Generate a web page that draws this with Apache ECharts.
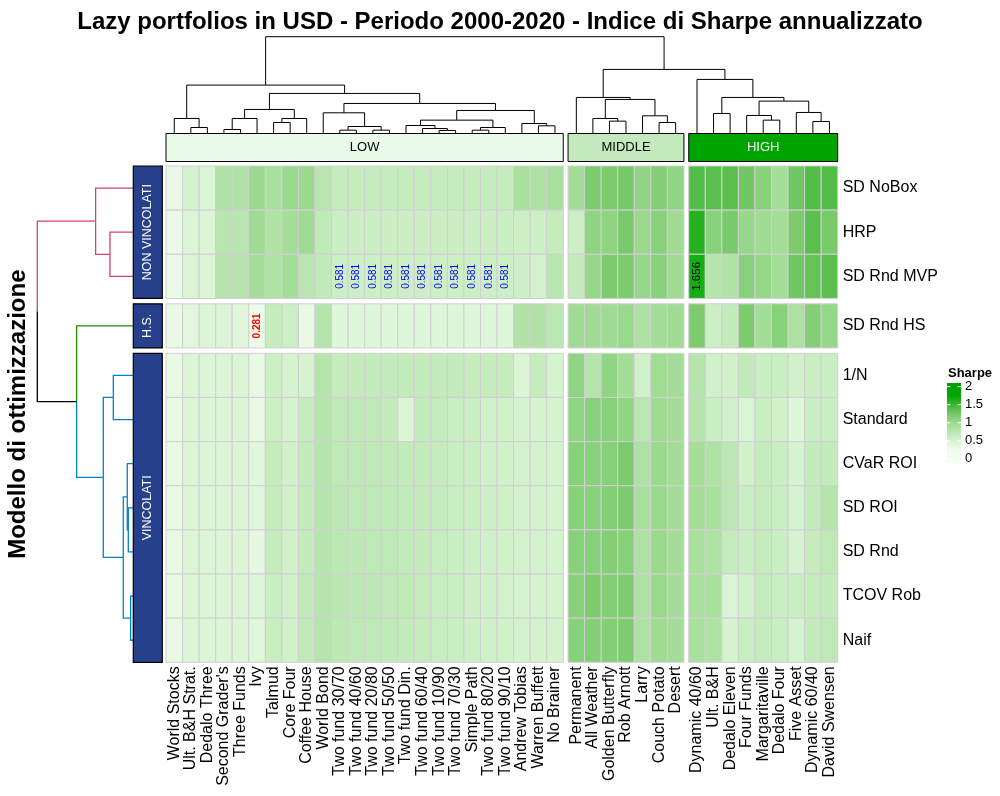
<!DOCTYPE html>
<html><head><meta charset="utf-8">
<script src="https://cdn.jsdelivr.net/npm/echarts@6/dist/echarts.min.js"></script>
<style>html,body{margin:0;padding:0;background:#fff}#chart{width:1000px;height:796px}</style>
</head><body><div id="chart"></div>
<script>
// ---------------- DATA ----------------
const colNames = ["World Stocks","Ult. B&H Strat.","Dedalo Three","Second Grader's","Three Funds","Ivy","Talmud","Core Four","Coffee House","World Bond","Two fund 30/70","Two fund 40/60","Two fund 20/80","Two fund 50/50","Two fund Din.","Two fund 60/40","Two fund 10/90","Two fund 70/30","Simple Path","Two fund 80/20","Two fund 90/10","Andrew Tobias","Warren Buffett","No Brainer","Permanent","All Weather","Golden Butterfly","Rob Arnott","Larry","Couch Potato","Desert","Dynamic 40/60","Ult. B&H","Dedalo Eleven","Four Funds","Margaritaville","Dedalo Four","Five Asset","Dynamic 60/40","David Swensen"];
const colBlockNames = ["LOW","MIDDLE","HIGH"];
const colBlockSizes = [24,7,9];

const rowNames = ["SD NoBox","HRP","SD Rnd MVP","SD Rnd HS","1/N","Standard","CVaR ROI","SD ROI","SD Rnd","TCOV Rob","Naif"];
const rowBlockNames = ["NON VINCOLATI","H.S.","VINCOLATI"];
const rowBlockSizes = [3,1,7];
const rowClusters = [0,0,0,1,2,2,2,2,2,2,2];

// Sharpe values, one array per row (columns in colNames order)
const sdNoBox  = [0.32,0.52,0.46,0.83,0.83,1.00,0.88,1.00,1.00,0.75, 0.64,0.64,0.64,0.64,0.64,0.64,0.64,0.64,0.64,0.64,0.64, 0.88,0.85,0.90, 0.93,1.20,1.20,1.24,1.07,1.15,1.07, 1.40,1.37,1.37,1.27,1.12,0.92,1.27,1.40,1.40];
const hrp      = [0.30,0.45,0.45,0.76,0.76,0.97,0.82,0.92,0.97,0.68, 0.59,0.59,0.59,0.59,0.59,0.59,0.59,0.59,0.59,0.59,0.59, 0.58,0.58,0.64, 0.58,1.08,1.08,1.22,1.00,1.12,0.97, 1.60,1.12,1.22,1.03,0.97,0.92,1.20,1.37,1.22];
const sdRndMvp = [0.30,0.46,0.46,0.78,0.78,0.92,0.84,0.92,0.75,0.68, 0.581,0.581,0.581,0.581,0.581,0.581,0.581,0.581,0.581,0.581,0.581, 0.57,0.53,0.76, 0.66,1.03,1.20,1.20,1.03,1.12,0.97, 1.656,0.78,0.82,1.12,1.03,0.92,1.27,1.32,1.37];
const sdRndHs  = [0.32,0.38,0.45,0.45,0.40,0.281,0.64,0.58,0.32,0.78, 0.42,0.42,0.42,0.42,0.42,0.42,0.42,0.42,0.42,0.42,0.42, 0.82,0.82,0.73, 0.97,0.97,0.97,1.02,0.85,0.93,0.97, 1.20,0.58,0.66,1.20,0.93,1.12,0.85,1.15,1.03];
const oneOverN = [0.33,0.45,0.45,0.45,0.45,0.33,0.58,0.50,0.50,0.78, 0.64,0.66,0.66,0.66,0.66,0.66,0.66,0.66,0.64,0.64,0.64, 0.45,0.64,0.50, 1.07,0.78,1.07,0.93,0.54,0.95,0.93, 0.78,0.54,0.54,0.68,0.60,0.60,0.54,0.60,0.60];
const standard = [0.33,0.45,0.45,0.45,0.45,0.33,0.58,0.50,0.64,0.78, 0.69,0.69,0.69,0.66,0.45,0.66,0.64,0.60,0.60,0.54,0.54, 0.50,0.50,0.50, 1.07,1.12,1.12,1.07,0.73,0.97,0.93, 0.78,0.60,0.54,0.47,0.60,0.54,0.42,0.60,0.60];
const cvarRoi  = [0.33,0.45,0.45,0.45,0.45,0.40,0.64,0.54,0.66,0.78, 0.70,0.70,0.70,0.68,0.66,0.66,0.64,0.62,0.60,0.56,0.54, 0.52,0.52,0.50, 1.12,1.12,1.14,1.20,0.84,1.00,0.93, 0.92,0.84,0.73,0.54,0.64,0.60,0.50,0.66,0.66];
const sdRoi    = [0.33,0.45,0.45,0.45,0.45,0.40,0.64,0.54,0.66,0.78, 0.71,0.70,0.70,0.68,0.66,0.65,0.64,0.62,0.60,0.57,0.55, 0.52,0.52,0.50, 1.12,1.12,1.15,1.20,0.88,1.00,0.93, 0.92,0.88,0.73,0.60,0.64,0.60,0.50,0.66,0.78];
const sdRnd    = [0.33,0.45,0.45,0.45,0.45,0.36,0.64,0.54,0.66,0.78, 0.72,0.71,0.70,0.69,0.67,0.65,0.63,0.60,0.58,0.56,0.54, 0.52,0.52,0.50, 1.12,1.14,1.15,1.14,0.84,1.00,0.93, 0.88,0.84,0.64,0.60,0.64,0.60,0.50,0.64,0.70];
const tcovRob  = [0.33,0.45,0.45,0.45,0.45,0.42,0.60,0.54,0.68,0.78, 0.74,0.72,0.71,0.70,0.68,0.64,0.62,0.60,0.57,0.55,0.53, 0.50,0.50,0.50, 1.12,1.20,1.15,1.18,0.84,1.02,0.93, 0.88,0.88,0.47,0.54,0.64,0.60,0.60,0.64,0.66];
const naif     = [0.32,0.45,0.45,0.45,0.45,0.40,0.62,0.54,0.68,0.78, 0.72,0.70,0.69,0.68,0.66,0.64,0.62,0.60,0.58,0.56,0.54, 0.52,0.52,0.52, 1.12,1.15,1.15,1.18,0.84,0.97,0.93, 0.88,0.84,0.50,0.60,0.64,0.60,0.50,0.66,0.70];

// cells whose value is printed: [row, col]
const labelledCells = [[2,10],[2,11],[2,12],[2,13],[2,14],[2,15],[2,16],[2,17],[2,18],[2,19],[2,20],[3,5],[2,31]];

// column dendrogram merges: [childA, childB, height]; leaves 0..39, merge k -> node 40+k
const colMerges = [
 [1,2,0.18],[0,40,0.45],[3,4,0.12],[42,5,0.45],[6,7,0.33],[44,8,0.45],[43,45,0.72],
 [10,11,0.10],[12,13,0.10],[47,48,0.21],[9,49,0.62],
 [16,17,0.09],[15,51,0.15],[14,52,0.24],[18,19,0.10],[54,20,0.18],[53,55,0.40],
 [22,23,0.23],[21,57,0.30],[56,58,0.69],[50,59,0.90],[46,60,1.20],[41,61,1.45],
 [26,27,0.37],[25,63,0.45],[29,30,0.33],[28,65,0.53],[64,66,1.02],[24,67,1.08],
 [32,33,0.60],[35,36,0.40],[34,70,0.54],[38,39,0.36],[37,72,0.63],[71,73,0.97],[69,74,1.08],[31,75,1.62],
 [68,76,1.92],[62,77,2.90]
];
// row dendrogram merges; leaves 0..10, merge k -> node 11+k
const rowMerges = [
 [1,2,0.70],[0,11,1.13],[4,5,0.60],[7,8,0.15],[6,14,0.18],[9,10,0.08],[15,16,0.30],[13,17,0.90],[3,18,1.70],[12,19,2.88]
];

const legendTicks = [0,0.5,1,1.5,2];

// ---------------- LAYOUT / STYLE ----------------
const FONT = "'Liberation Sans', Arial, Helvetica, sans-serif";
const colGap = 0.29, rowGap = 0.122;
const branchColors = ['#CC476B','#228B00','#0082CE'];
const scaleColors = ['#f3fdf2','#f0fcee','#d6f3d0','#b9e6b0','#9bda8e','#74c866','#3db535','#00a800','#00a000'];
const topFill = ['#ebfbea','#c4e9bc','#00a400'];
const topText = ['#000','#000','#fff'];

function blockIdx(sizes){const o=[];sizes.forEach((s,b)=>{for(let i=0;i<s;i++)o.push(b);});return o;}
function blockStarts(sizes){const o=[];let a=0;sizes.forEach(s=>{o.push([a,a+s-1]);a+=s;});return o;}
const colBlock = blockIdx(colBlockSizes), rowBlock = blockIdx(rowBlockSizes);
const colRanges = blockStarts(colBlockSizes), rowRanges = blockStarts(rowBlockSizes);
const colPos = colNames.map((_,i)=> i + colGap*colBlock[i]);
const rowPos = rowNames.map((_,i)=> i + rowGap*rowBlock[i]);
const xMin = -0.5, xMax = colNames.length - 0.5 + colGap*(colBlockSizes.length-1);
const yMin = -0.5, yMax = rowNames.length - 0.5 + rowGap*(rowBlockSizes.length-1);

const values = [sdNoBox,hrp,sdRndMvp,sdRndHs,oneOverN,standard,cvarRoi,sdRoi,sdRnd,tcovRob,naif];
const heatData = [];
values.forEach((row,r)=>row.forEach((v,c)=>heatData.push([colPos[c],rowPos[r],v])));
const allVals = values.flat();
const vMin = Math.min(...allVals), vMax = Math.max(...allVals);
const labelData = labelledCells.map(([r,c])=>[colPos[c],rowPos[r],values[r][c]]);

function buildTree(leafPos, merges, leafColors){
  const pos = leafPos.slice(), hgt = leafPos.map(()=>0), col = leafColors.slice();
  merges.forEach(([a,b,h])=>{pos.push((pos[a]+pos[b])/2);hgt.push(h);col.push(col[a]===col[b]?col[a]:'#000');});
  return {pos,hgt,col,n:leafPos.length,merges};
}
const colTree = buildTree(colPos, colMerges, colPos.map(()=>'#000'));
const rowTree = buildTree(rowPos, rowMerges, rowClusters.map(k=>branchColors[k]));

function nameAt(posArr, names, v){const i=posArr.findIndex(p=>Math.abs(p-v)<1e-6);return i<0?'':names[i];}
function rectFrom(p0,p1){return {x:Math.min(p0[0],p1[0]),y:Math.min(p0[1],p1[1]),width:Math.abs(p1[0]-p0[0]),height:Math.abs(p1[1]-p0[1])};}

function dendroRender(tree, orient, lw){
  return function(params, api){
    const i = params.dataIndex;
    const [a,b,h] = tree.merges[i];
    const mid = tree.pos[tree.n+i];
    const children = [a,b].map(k=>{
      const pts = orient==='top'
        ? [[tree.pos[k],tree.hgt[k]],[tree.pos[k],h],[mid,h]]
        : [[tree.hgt[k],tree.pos[k]],[h,tree.pos[k]],[h,mid]];
      return {type:'polyline',shape:{points:pts.map(p=>api.coord(p))},style:{stroke:tree.col[k],lineWidth:lw,fill:null}};
    });
    return {type:'group',children};
  };
}

const hiddenAxis = {axisLine:{show:false},axisTick:{show:false},splitLine:{show:false},axisLabel:{show:false}};
const gW = 671.7, gL = 166, gT = 166, gH = 496.3;

const option = {
  backgroundColor:'#fff',
  animation:false,
  textStyle:{fontFamily:FONT},
  title:[
    {text:'Lazy portfolios in USD - Periodo 2000-2020 - Indice di Sharpe annualizzato',left:'center',top:5,
     textStyle:{fontFamily:FONT,fontSize:24,fontWeight:'bold',color:'#000'}},
    {text:'Sharpe',left:943,top:362,textStyle:{fontFamily:FONT,fontSize:13,fontWeight:'bold',color:'#000'}}
  ],
  grid:[
    {left:gL,top:gT,width:gW,height:gH,outerBoundsMode:'none'},
    {left:gL,top:36.7,width:gW,height:96.8,outerBoundsMode:'none'},
    {left:gL,top:133.5,width:gW,height:28,outerBoundsMode:'none'},
    {left:37.3,top:gT,width:96,height:gH,outerBoundsMode:'none'},
    {left:133.3,top:gT,width:29,height:gH,outerBoundsMode:'none'},
    {left:947,top:383,width:14,height:79.5,outerBoundsMode:'none'}
  ],
  xAxis:[
    Object.assign({},hiddenAxis,{gridIndex:0,type:'value',min:xMin,max:xMax,
      axisLabel:{show:true,customValues:colPos,rotate:90,margin:4,fontSize:16,color:'#000',fontFamily:FONT,
        formatter:v=>nameAt(colPos,colNames,v)}}),
    Object.assign({},hiddenAxis,{gridIndex:1,type:'value',min:xMin,max:xMax}),
    Object.assign({},hiddenAxis,{gridIndex:2,type:'value',min:xMin,max:xMax}),
    Object.assign({},hiddenAxis,{gridIndex:3,type:'value',min:0,max:2.88,inverse:true}),
    Object.assign({},hiddenAxis,{gridIndex:4,type:'value',min:0,max:1}),
    Object.assign({},hiddenAxis,{gridIndex:5,type:'value',min:0,max:1})
  ],
  yAxis:[
    Object.assign({},hiddenAxis,{gridIndex:0,type:'value',min:yMin,max:yMax,inverse:true,position:'right',
      axisLabel:{show:true,customValues:rowPos,margin:5,fontSize:16,color:'#000',fontFamily:FONT,
        formatter:v=>nameAt(rowPos,rowNames,v)}}),
    Object.assign({},hiddenAxis,{gridIndex:1,type:'value',min:0,max:2.90}),
    Object.assign({},hiddenAxis,{gridIndex:2,type:'value',min:0,max:1}),
    Object.assign({},hiddenAxis,{gridIndex:3,type:'value',min:yMin,max:yMax,inverse:true,position:'left',
      name:'Modello di ottimizzazione',nameLocation:'middle',nameRotate:90,nameGap:7,
      nameTextStyle:{fontFamily:FONT,fontSize:24,fontWeight:'bold',color:'#000'}}),
    Object.assign({},hiddenAxis,{gridIndex:4,type:'value',min:yMin,max:yMax,inverse:true}),
    Object.assign({},hiddenAxis,{gridIndex:5,type:'value',min:-0.1,max:2.1,position:'right',
      axisLabel:{show:true,customValues:legendTicks,margin:4,fontSize:13,color:'#000',fontFamily:FONT,
        formatter:v=>String(v)}})
  ],
  visualMap:[{show:false,type:'continuous',min:0,max:2,dimension:2,seriesIndex:0,inRange:{color:scaleColors}}],
  series:[
    {type:'custom',xAxisIndex:0,yAxisIndex:0,data:heatData,encode:{x:0,y:1},clip:false,
      renderItem:(params,api)=>{
        const x=api.value(0), y=api.value(1);
        return {type:'rect',shape:rectFrom(api.coord([x-0.5,y-0.5]),api.coord([x+0.5,y+0.5])),
          style:{fill:api.visual('color'),stroke:'#d0d0d0',lineWidth:1}};
      }},
    {type:'custom',xAxisIndex:0,yAxisIndex:0,data:labelData,encode:{x:0,y:1},clip:false,z:5,
      renderItem:(params,api)=>{
        const v=api.value(2); const p=api.coord([api.value(0),api.value(1)]);
        const isMin=Math.abs(v-vMin)<1e-9, isMax=Math.abs(v-vMax)<1e-9;
        return {type:'text',x:p[0],y:p[1],rotation:Math.PI/2,
          style:{text:v.toFixed(3),fill:isMin?'#ff0000':(isMax?'#000':'#0000ff'),
            fontSize:isMax?11.5:10,fontWeight:isMin?'bold':'normal',fontFamily:FONT,align:'center',verticalAlign:'middle'}};
      }},
    {type:'custom',xAxisIndex:1,yAxisIndex:1,data:colMerges.map(m=>[m[2],m[2]]),clip:false,
      renderItem:dendroRender(colTree,'top',1)},
    {type:'custom',xAxisIndex:3,yAxisIndex:3,data:rowMerges.map(m=>[m[2],m[2]]),clip:false,
      renderItem:dendroRender(rowTree,'left',1.3)},
    {type:'custom',xAxisIndex:2,yAxisIndex:2,data:colBlockNames.map((_,b)=>[b,0]),clip:false,
      renderItem:(params,api)=>{
        const b=params.dataIndex; const [s,e]=colRanges[b];
        const r=rectFrom(api.coord([colPos[s]-0.5,1]),api.coord([colPos[e]+0.5,0]));
        return {type:'group',children:[
          {type:'rect',shape:r,style:{fill:topFill[b],stroke:'#000',lineWidth:1}},
          {type:'text',x:r.x+r.width/2,y:r.y+r.height/2,style:{text:colBlockNames[b],fill:topText[b],fontSize:13,fontFamily:FONT,align:'center',verticalAlign:'middle'}}
        ]};
      }},
    {type:'custom',xAxisIndex:4,yAxisIndex:4,data:rowBlockNames.map((_,b)=>[0,b]),clip:false,
      renderItem:(params,api)=>{
        const b=params.dataIndex; const [s,e]=rowRanges[b];
        const r=rectFrom(api.coord([0,rowPos[s]-0.5]),api.coord([1,rowPos[e]+0.5]));
        return {type:'group',children:[
          {type:'rect',shape:r,style:{fill:'#27408B',stroke:'#000',lineWidth:1.2}},
          {type:'text',x:r.x+r.width/2,y:r.y+r.height/2,rotation:Math.PI/2,style:{text:rowBlockNames[b],fill:'#fff',fontSize:12.5,fontFamily:FONT,align:'center',verticalAlign:'middle'}}
        ]};
      }},
    {type:'custom',xAxisIndex:5,yAxisIndex:5,data:[[0,0]],clip:false,
      renderItem:(params,api)=>{
        const top=2.1, bot=-0.1;
        const r=rectFrom(api.coord([0,top]),api.coord([1,bot]));
        const stops=[{offset:0,color:scaleColors[scaleColors.length-1]}];
        for(let i=scaleColors.length-1;i>=0;i--){
          const v=2*i/(scaleColors.length-1);
          stops.push({offset:(top-v)/(top-bot),color:scaleColors[i]});
        }
        stops.push({offset:1,color:scaleColors[0]});
        const kids=[{type:'rect',shape:r,style:{fill:new echarts.graphic.LinearGradient(0,0,0,1,stops)}}];
        legendTicks.forEach(t=>{
          const a=api.coord([0,t]), b=api.coord([0.25,t]), c=api.coord([0.75,t]), d=api.coord([1,t]);
          kids.push({type:'line',shape:{x1:a[0],y1:a[1],x2:b[0],y2:b[1]},style:{stroke:'#fff',lineWidth:1}});
          kids.push({type:'line',shape:{x1:c[0],y1:c[1],x2:d[0],y2:d[1]},style:{stroke:'#fff',lineWidth:1}});
        });
        return {type:'group',children:kids};
      }}
  ]
};
const chart = echarts.init(document.getElementById('chart'),null,{renderer:'canvas'});
chart.setOption(option);
</script></body></html>
